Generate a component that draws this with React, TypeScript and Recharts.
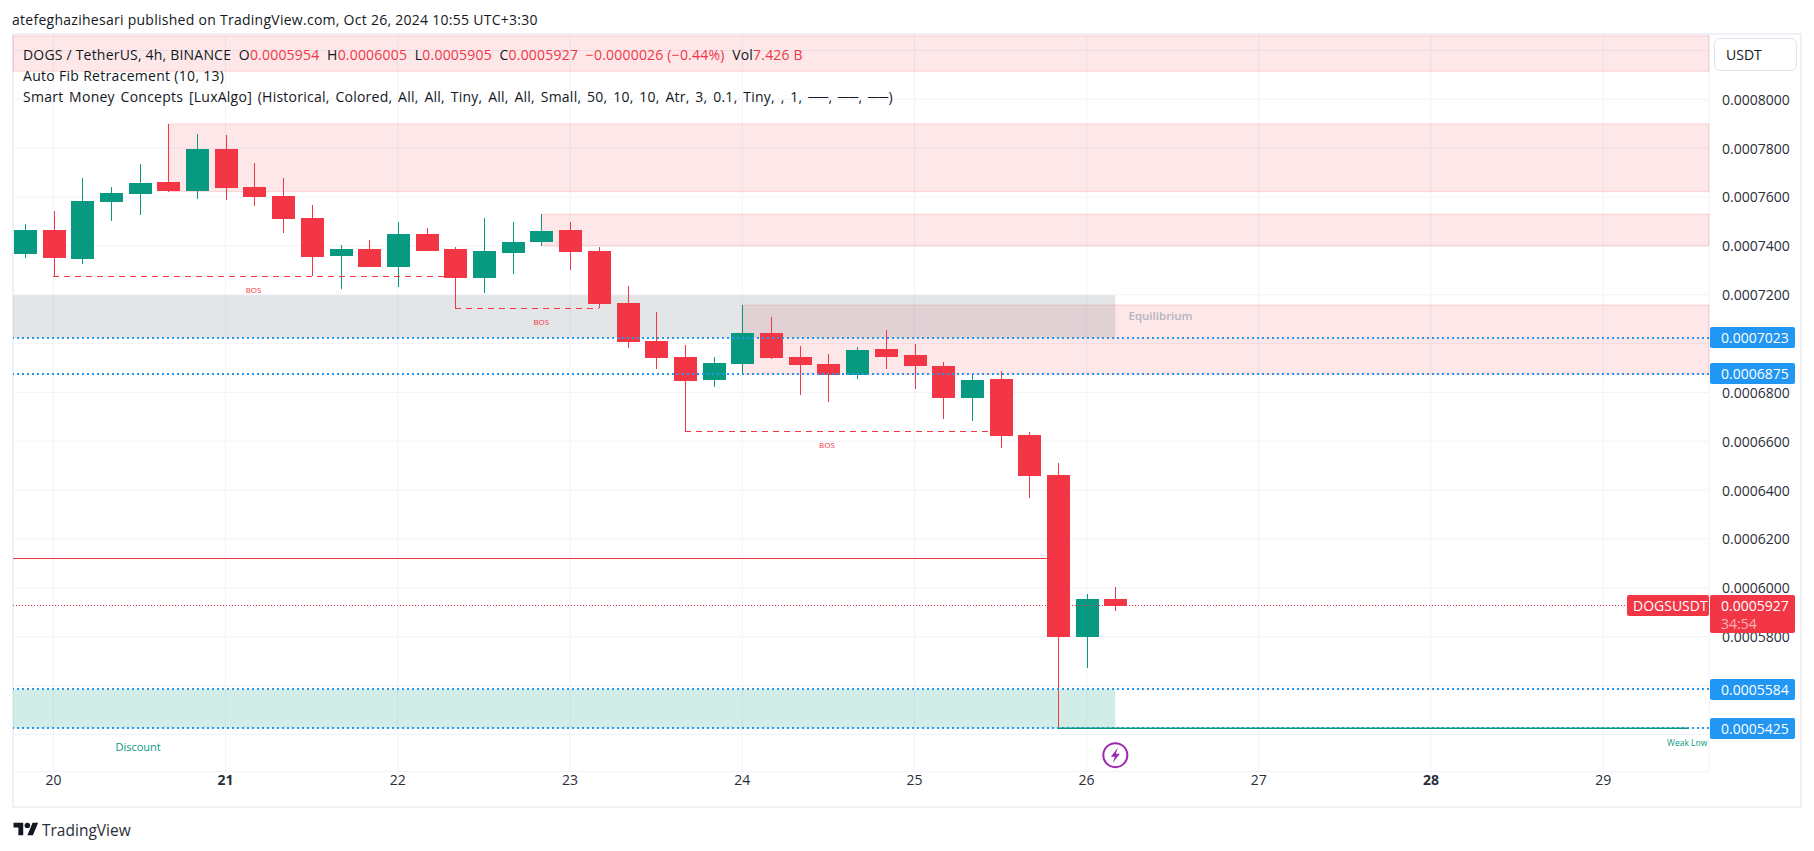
import React from 'react';
import {
  ComposedChart, Bar, XAxis, YAxis, CartesianGrid, ReferenceArea, ReferenceLine, ReferenceDot,
} from 'recharts';

const W = 1814;
const H = 851;
const FONT = '"Open Sans", sans-serif';
const RED = '#f23645';
const GREEN = '#089981';
const BLUE = '#2196f3';
const INK = '#131722';
const AXIS_INK = '#2a2e39';

const candleHours = [-4, 0, 4, 8, 12, 16, 20, 24, 28, 32, 36, 40, 44, 48, 52, 56, 60, 64, 68, 72, 76, 80, 84, 88, 92, 96, 100, 104, 108, 112, 116, 120, 124, 128, 132, 136, 140, 144, 148];
const opens = [0.0007367, 0.0007465, 0.0007346, 0.000758, 0.0007612, 0.0007661, 0.0007625, 0.0007796, 0.0007641, 0.0007604, 0.0007514, 0.0007358, 0.0007387, 0.0007313, 0.0007448, 0.0007387, 0.0007268, 0.0007371, 0.0007416, 0.0007465, 0.0007379, 0.0007166, 0.000701, 0.0006945, 0.0006851, 0.0006916, 0.0007043, 0.0006945, 0.0006916, 0.0006871, 0.0006978, 0.0006953, 0.0006908, 0.0006777, 0.0006855, 0.0006626, 0.0006462, 0.0005799, 0.0005954];
const closes = [0.0007465, 0.000735, 0.0007584, 0.0007616, 0.0007657, 0.0007625, 0.0007796, 0.0007637, 0.00076, 0.000751, 0.0007354, 0.0007387, 0.0007313, 0.0007448, 0.0007379, 0.0007268, 0.0007379, 0.0007416, 0.0007461, 0.0007375, 0.0007162, 0.0007006, 0.0006941, 0.0006847, 0.000692, 0.0007043, 0.0006941, 0.0006912, 0.0006871, 0.0006973, 0.0006945, 0.0006908, 0.0006777, 0.0006851, 0.0006622, 0.0006458, 0.0005799, 0.0005954, 0.0005927];
const highs = [0.0007489, 0.0007543, 0.0007678, 0.0007641, 0.0007735, 0.0007899, 0.0007858, 0.0007854, 0.0007739, 0.0007678, 0.0007567, 0.0007403, 0.0007424, 0.0007498, 0.0007473, 0.0007395, 0.0007514, 0.0007498, 0.000753, 0.0007498, 0.0007395, 0.0007236, 0.0007129, 0.0006994, 0.0006945, 0.0007158, 0.0007109, 0.000699, 0.0006957, 0.0006986, 0.0007055, 0.0006998, 0.0006924, 0.0006875, 0.0006888, 0.0006638, 0.0006511, 0.0005975, 0.0006005];
const lows = [0.000735, 0.0007275, 0.0007326, 0.0007502, 0.0007526, 0.000762, 0.0007592, 0.0007588, 0.0007563, 0.0007453, 0.0007275, 0.0007223, 0.0007313, 0.0007231, 0.0007379, 0.0007145, 0.0007207, 0.0007285, 0.0007399, 0.0007301, 0.0007145, 0.0006982, 0.0006896, 0.0006642, 0.0006822, 0.0006875, 0.0006937, 0.0006789, 0.0006761, 0.0006855, 0.0006896, 0.0006814, 0.0006691, 0.0006683, 0.0006572, 0.0006368, 0.0005425, 0.0005672, 0.0005905];

const dayTicks = [0, 24, 48, 72, 96, 120, 144, 168, 192, 216];
const dayLabels = ['20', '21', '22', '23', '24', '25', '26', '27', '28', '29'];
const boldDays = ['21', '28'];
const priceTicks = [0.00054, 0.00056, 0.00058, 0.0006, 0.00062, 0.00064, 0.00066, 0.00068, 0.0007, 0.00072, 0.00074, 0.00076, 0.00078, 0.0008, 0.00082];
const hiddenPriceTicks = [0.00054, 0.00056, 0.0007, 0.00082];
const fibLevels = [0.0007023, 0.0006875, 0.0005584, 0.0005425];
const lastClose = 0.0005927;

const X_MIN = -5.63;
const X_MAX = 230.74;
const Y_MIN = 0.00052472;
const Y_MAX = 0.00082673;

const candles = candleHours.map((hour, i) => ({
  hour, open: opens[i], close: closes[i], high: highs[i], low: lows[i],
}));

const fmt = (v: number) => v.toFixed(7);

function Candle(props: any) {
  const { x, y, width, height, payload } = props;
  const { open, close, high, low } = payload;
  const color = close >= open ? GREEN : RED;
  const ppu = height / (high - low);
  const top = y + (high - Math.max(open, close)) * ppu;
  const bottom = y + (high - Math.min(open, close)) * ppu;
  const cx = Math.round(x + width / 2);
  return (
    <g shapeRendering="crispEdges">
      <line x1={cx} x2={cx} y1={y} y2={y + height} stroke={color} strokeWidth={1} />
      <rect x={cx - 11.5} y={top} width={23} height={Math.max(bottom - top, 1)} fill={color} />
    </g>
  );
}

function DayTick(props: any) {
  const { x, y, payload } = props;
  const label = dayLabels[dayTicks.indexOf(payload.value)];
  return (
    <text x={x} y={y} textAnchor="middle" dominantBaseline="central" fontFamily={FONT} fontSize={14}
      fontWeight={boldDays.includes(label) ? 700 : 400} fill={AXIS_INK}>
      {label}
    </text>
  );
}

function PriceTick(props: any) {
  const { x, y, payload } = props;
  if (hiddenPriceTicks.includes(payload.value)) return <g />;
  return (
    <text x={x + 11} y={y} textAnchor="start" dominantBaseline="central" fontFamily={FONT} fontSize={14} fill={AXIS_INK}>
      {fmt(payload.value)}
    </text>
  );
}

function Bolt(props: any) {
  const { cx, cy } = props;
  return (
    <g transform={`translate(${cx},${cy})`}>
      <circle r={12} fill="#fff" stroke="#9c27b0" strokeWidth={2} />
      <path d="M2.5 -7.5 L-4.5 1.5 L-0.5 1.5 L-2.5 7.5 L4.5 -1.5 L0.5 -1.5 Z" fill="#9c27b0" />
    </g>
  );
}

const note = (value: string, fill: string, fontSize: number, fontWeight = 400) => ({
  value, position: 'center' as const, fill, fontSize, fontWeight, fontFamily: FONT,
});

const Tag = ({ top, height, left, width, bg, children, pad = 11 }: any) => (
  <div style={{
    position: 'absolute', left, top, width, height, background: bg, color: '#fff', fontFamily: FONT,
    fontSize: 14, fontWeight: 500, lineHeight: `${height}px`, paddingLeft: pad, boxSizing: 'border-box',
    borderRadius: 2,
  }}>{children}</div>
);

const Line = ({ top, children, ls = 0, ws = 0 }: any) => (
  <div style={{
    position: 'absolute', left: 23, top, height: 21, lineHeight: '21px', fontFamily: FONT, fontSize: 14,
    color: INK, whiteSpace: 'pre', letterSpacing: ls, wordSpacing: ws,
  }}>{children}</div>
);

const R = ({ children }: any) => <span style={{ color: RED }}>{children}</span>;

export default function App() {
  return (
    <div style={{ position: 'absolute', left: 0, top: 0, width: W, height: H, background: '#fff', overflow: 'hidden' }}>
      <div style={{
        position: 'absolute', left: 12, top: 9, height: 22, lineHeight: '22px', fontFamily: FONT, fontSize: 14,
        color: INK, whiteSpace: 'pre', letterSpacing: 0.27,
      }}>atefeghazihesari published on TradingView.com, Oct 26, 2024 10:55 UTC+3:30</div>

      <div style={{
        position: 'absolute', left: 12, top: 33, width: 1790, height: 775, boxSizing: 'border-box',
        border: '2px solid #f0f0f6',
      }} />

      <div style={{ position: 'absolute', left: 0, top: 0 }}>
        <ComposedChart width={W} height={H} data={candles} margin={{ top: 34, right: 0, bottom: 39.3, left: 13 }}>
          <CartesianGrid stroke="#f0f3fa" strokeWidth={1} />
          <XAxis dataKey="hour" type="number" scale="linear" domain={[X_MIN, X_MAX]} ticks={dayTicks}
            axisLine={false} tickLine={false} height={40} tick={<DayTick />} interval={0} />
          <YAxis orientation="right" type="number" domain={[Y_MIN, Y_MAX]} ticks={priceTicks}
            axisLine={false} tickLine={false} tickSize={0} width={105} tick={<PriceTick />} interval={0} />

          <ReferenceArea x1={X_MIN} x2={X_MAX} y1={0.0008115} y2={0.000826} fill={RED} fillOpacity={0.12} stroke={RED} strokeOpacity={0.18} />
          <ReferenceArea x1={16} x2={X_MAX} y1={0.0007622} y2={0.0007899} fill={RED} fillOpacity={0.12} stroke={RED} strokeOpacity={0.18} />
          <ReferenceArea x1={68} x2={X_MAX} y1={0.00074} y2={0.000753} fill={RED} fillOpacity={0.12} stroke={RED} strokeOpacity={0.18} />
          <ReferenceArea x1={96} x2={X_MAX} y1={0.0006875} y2={0.0007158} fill={RED} fillOpacity={0.12} stroke={RED} strokeOpacity={0.18} />
          <ReferenceArea x1={X_MIN} x2={148} y1={0.0007023} y2={0.0007198} fill="#787b86" fillOpacity={0.2} stroke="none" />
          <ReferenceArea x1={X_MIN} x2={148} y1={0.0005425} y2={0.0005584} fill={GREEN} fillOpacity={0.18} stroke="none" />

          {fibLevels.map((v) => (
            <ReferenceLine key={v} y={v} stroke={BLUE} strokeWidth={2} strokeDasharray="2 3" shapeRendering="crispEdges" />
          ))}

          <ReferenceLine segment={[{ x: X_MIN, y: 0.0006121 }, { x: 140, y: 0.0006121 }]} stroke={RED} strokeWidth={1} shapeRendering="crispEdges" />
          <ReferenceLine segment={[{ x: X_MIN, y: lastClose }, { x: 219.2, y: lastClose }]} stroke={RED} strokeWidth={1} strokeDasharray="1 2" shapeRendering="crispEdges" />
          <ReferenceLine segment={[{ x: 0, y: 0.0007275 }, { x: 56, y: 0.0007275 }]} stroke={RED} strokeWidth={1} strokeDasharray="6 5" shapeRendering="crispEdges" />
          <ReferenceLine segment={[{ x: 56, y: 0.0007145 }, { x: 76, y: 0.0007145 }]} stroke={RED} strokeWidth={1} strokeDasharray="6 5" shapeRendering="crispEdges" />
          <ReferenceLine segment={[{ x: 88, y: 0.0006642 }, { x: 132, y: 0.0006642 }]} stroke={RED} strokeWidth={1} strokeDasharray="6 5" shapeRendering="crispEdges" />
          <ReferenceLine segment={[{ x: 140, y: 0.0005425 }, { x: 227.7, y: 0.0005425 }]} stroke={GREEN} strokeWidth={1.5} />

          <Bar dataKey={(d: any) => [d.low, d.high]} barSize={23} shape={<Candle />} isAnimationActive={false} />

          <ReferenceDot x={27.9} y={0.0007219} r={0} label={note('BOS', RED, 8)} />
          <ReferenceDot x={68} y={0.0007088} r={0} label={note('BOS', RED, 8)} />
          <ReferenceDot x={107.8} y={0.0006585} r={0} label={note('BOS', RED, 8)} />
          <ReferenceDot x={154.3} y={0.0007113} r={0} label={note('Equilibrium', '#b2b5be', 11.5, 600)} />
          <ReferenceDot x={11.8} y={0.0005349} r={0} label={note('Discount', GREEN, 11)} />
          <ReferenceDot x={227.7} y={0.0005366} r={0} label={note('Weak Low', GREEN, 8.5)} />
          <ReferenceDot x={148} y={0.0005315} shape={<Bolt />} />
        </ComposedChart>
      </div>

      <Line top={44} ls={0.2}>DOGS / TetherUS, 4h, BINANCE  O<R>0.0005954</R>  H<R>0.0006005</R>  L<R>0.0005905</R>  C<R>0.0005927</R>  <R>−0.0000026 (−0.44%)</R>  Vol<R>7.426 B</R></Line>
      <Line top={65} ls={0.3}>Auto Fib Retracement (10, 13)</Line>
      <Line top={86} ls={0.25} ws={1.85}>Smart Money Concepts [LuxAlgo] (Historical, Colored, All, All, Tiny, All, All, Small, 50, 10, 10, Atr, 3, 0.1, Tiny, , 1, ──, ──, ──)</Line>

      <div style={{
        position: 'absolute', left: 1714, top: 38, width: 83, height: 33, boxSizing: 'border-box',
        border: '1px solid #e0e3eb', borderRadius: 6, background: '#fff', fontFamily: FONT, fontSize: 14,
        lineHeight: '31px', paddingLeft: 11, color: INK,
      }}>USDT</div>

      <Tag left={1710} top={327} width={85} height={21} bg={BLUE}>0.0007023</Tag>
      <Tag left={1710} top={363} width={85} height={21} bg={BLUE}>0.0006875</Tag>
      <Tag left={1710} top={679} width={85} height={21} bg={BLUE}>0.0005584</Tag>
      <Tag left={1710} top={718} width={85} height={21} bg={BLUE}>0.0005425</Tag>
      <Tag left={1627} top={595} width={82} height={21} bg={RED} pad={6}>DOGSUSDT</Tag>
      <div style={{
        position: 'absolute', left: 1710, top: 595, width: 85, height: 38, background: RED, color: '#fff',
        fontFamily: FONT, fontSize: 14, fontWeight: 500, borderRadius: 2,
      }}>
        <div style={{ height: 21, lineHeight: '21px', paddingLeft: 11 }}>0.0005927</div>
        <div style={{ height: 16, lineHeight: '15px', paddingLeft: 11, color: '#fbb4ba' }}>34:54</div>
      </div>

      <svg style={{ position: 'absolute', left: 13, top: 820 }} width={26} height={18} viewBox="0 0 36 26">
        <path d="M14 22H7V11H0V4h14v18zM28 22h-8l7.5-18h8L28 22z" fill={INK} />
        <circle cx={20} cy={8} r={4} fill={INK} />
      </svg>
      <div style={{
        position: 'absolute', left: 42, top: 819, height: 22, lineHeight: '22px', fontFamily: FONT, fontSize: 15.5,
        color: AXIS_INK,
      }}>TradingView</div>
    </div>
  );
}
